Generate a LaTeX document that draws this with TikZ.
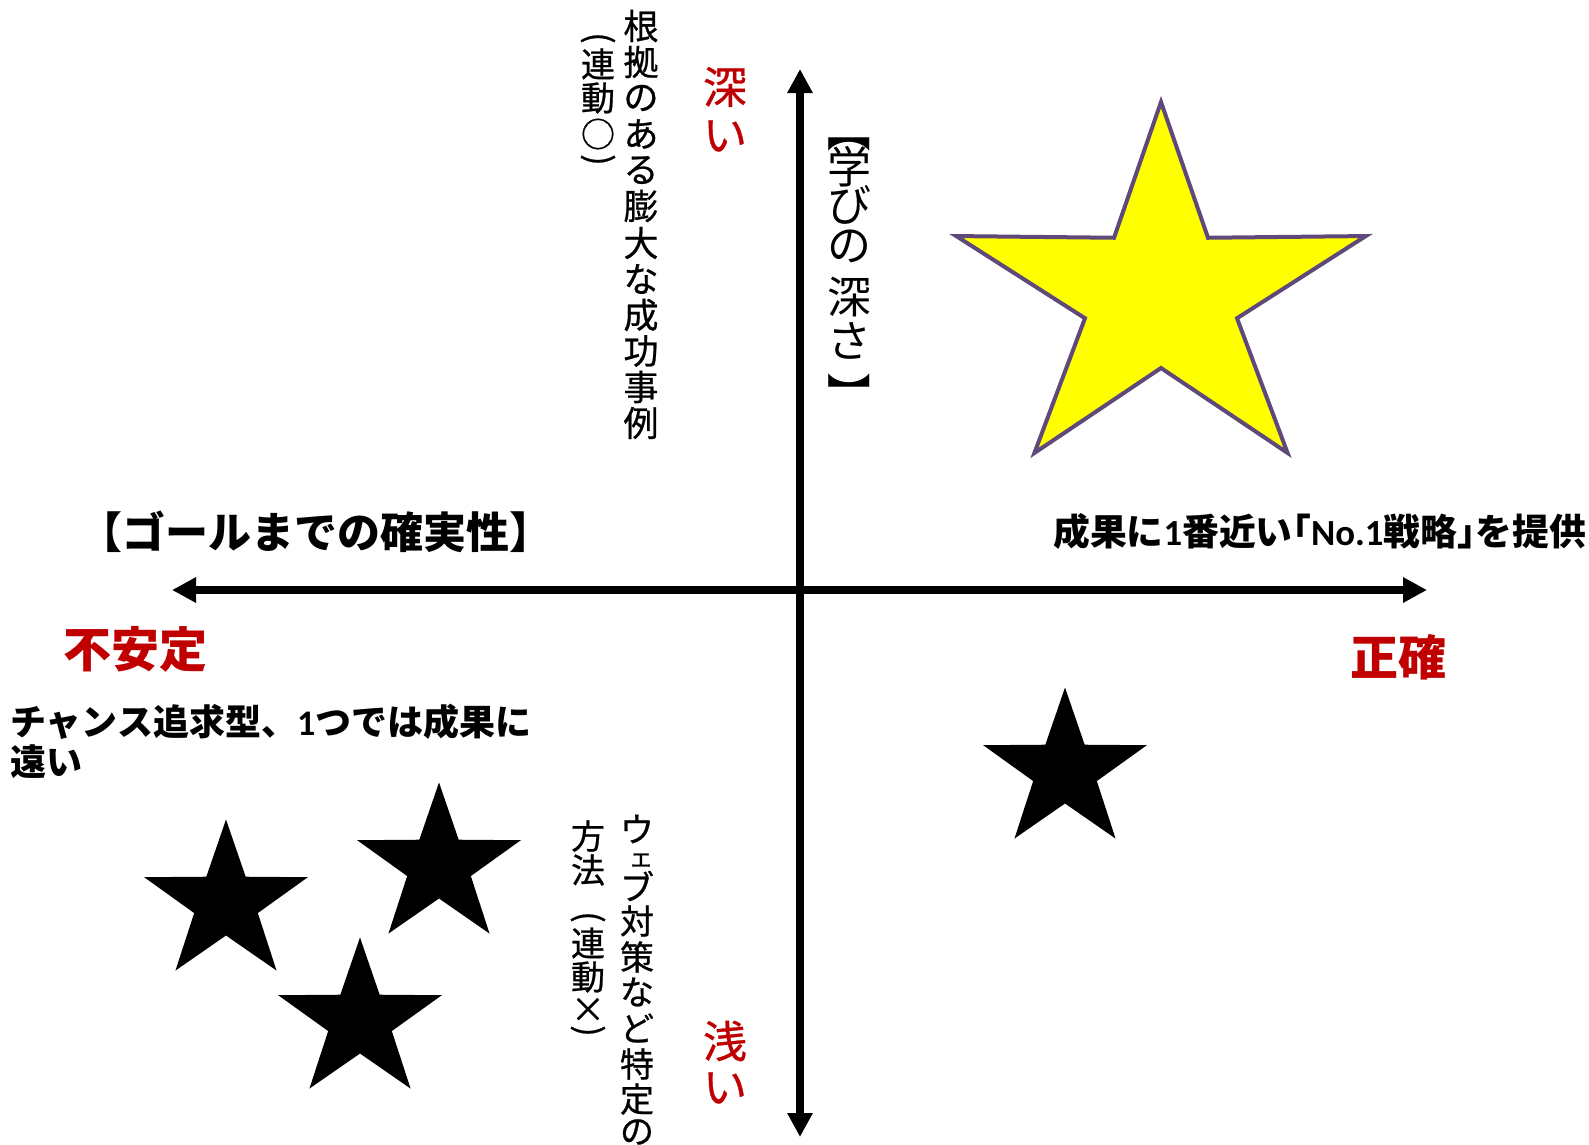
\documentclass[tikz,border=0pt]{standalone}
\usepackage{fontspec}
\usetikzlibrary{arrows.meta}
\newfontfamily\jp{Noto Sans CJK JP}
\newfontfamily\jpm[FakeBold=0.7]{Noto Sans CJK JP}
\newfontfamily\lat{Carlito}
\definecolor{jred}{HTML}{C00000}
\definecolor{jpurple}{HTML}{5F497A}
\definecolor{jyellow}{HTML}{FFFF00}
\tikzset{
  axisline/.style={line width=7.5pt, black, {Triangle[width=24pt,length=24pt]}-{Triangle[width=24pt,length=24pt]}},
  vreg/.style={inner sep=0pt, font=\jpm\fontsize{35}{35}\selectfont},
  vmid/.style={inner sep=0pt, font=\jpm\fontsize{34}{34}\selectfont},
  vsmall/.style={inner sep=0pt, font=\jpm\fontsize{34}{34}\selectfont},
  vbig/.style={inner sep=0pt, font=\jp\fontsize{44}{44}\selectfont},
  redv/.style={inner sep=0pt, text=jred, font=\jpm\fontsize{44}{44}\selectfont},
  redh/.style={inner sep=0pt, anchor=west, text=jred, font=\jp\bfseries\fontsize{48}{48}\selectfont},
  hbold/.style={inner sep=0pt, anchor=west, font=\jp\bfseries\fontsize{#1}{#1}\selectfont},
  ystar/.style={fill=jyellow, draw=jpurple, line width=4pt, line join=miter},
  bstar/.style={fill=black, draw=none},
}
\begin{document}
\begin{tikzpicture}[x=1pt,y=-1pt]
\fill[white] (0,0) rectangle (1589,1144);
\useasboundingbox (0,0) rectangle (1589,1144);

% axes
\coordinate (xl) at (172,590);
\coordinate (xr) at (1427,590);
\coordinate (yt) at (800,69);
\coordinate (yb) at (800,1137);
\draw[axisline] (xl) -- (xr);
\draw[axisline] (yb) -- (yt);

% stars
\draw[ystar, shift={(1161,296)}, xscale=1.11]
  plot[samples at={0,...,9}] ({-90+36*\x}:{194-122*mod(\x,2)}) -- cycle;
\fill[bstar, shift={(1065,771)}, xscale=1.03]
  plot[samples at={0,...,9}] ({-90+36*\x}:{83.5-51*mod(\x,2)}) -- cycle;
\fill[bstar, shift={(226,903)}, xscale=1.03]
  plot[samples at={0,...,9}] ({-90+36*\x}:{83.5-51*mod(\x,2)}) -- cycle;
\fill[bstar, shift={(439,866)}, xscale=1.03]
  plot[samples at={0,...,9}] ({-90+36*\x}:{83.5-51*mod(\x,2)}) -- cycle;
\fill[bstar, shift={(360,1021)}, xscale=1.03]
  plot[samples at={0,...,9}] ({-90+36*\x}:{83.5-51*mod(\x,2)}) -- cycle;

% vertical texts
\foreach [count=\i] \yy/\cc in {26/根,62/拠,98/の,134/あ,170/る,206/膨,243/大,279/な,315/成,351/功,387/事,423/例}
  \node[vreg] (ca\i) at (641,\yy) {\cc};
\node[vsmall, rotate=-90] (cb1) at (598,38) {(};
\foreach [count=\i] \yy/\cc in {64/連,98/動,134/○}
  \node[vsmall] (cb\i x) at (598,\yy) {\cc};
\node[vsmall, rotate=-90] (cb5) at (598,160) {)};
\node[vbig, rotate=-90] (cc1) at (849,130) {【};
\foreach [count=\i] \yy/\cc in {167/学,205/び,246/の,297/深,341/さ}
  \node[vbig] (cc\i x) at (849,\yy) {\cc};
\node[vbig, rotate=-90] (cc7) at (849,394) {】};
\foreach [count=\i] \yy/\cc in {829/ウ,886/ブ,921/対,957/策,992/な,1028/ど,1064/特,1099/定,1132/の}
  \node[vmid] (cd\i) at (637,\yy) {\cc};
\node[inner sep=0pt, font=\jpm\fontsize{25}{25}\selectfont] (cde) at (641,860) {ェ};
\foreach [count=\i] \yy/\cc in {836/方,870/法,943/連,977/動,1010/×}
  \node[vsmall] (ce\i) at (588,\yy) {\cc};
\node[vsmall, rotate=-90] (ceo) at (588,917) {(};
\node[vsmall, rotate=-90] (cec) at (588,1031) {)};

% red labels
\node[redv] (fuka1) at (725,87) {深};
\node[redv] (fuka2) at (725,136) {い};
\node[redv] (asa1) at (725,1041) {浅};
\node[redv] (asa2) at (725,1088) {い};
\node[redh] (fuan) at (63,649) {不安定};
\node[redh] (seikaku) at (1350,657) {正確};

% horizontal texts
\node[hbold=43] (goal) at (79,532) {【ゴールまでの確実性】};
\node[hbold=36.8] (no1) at (1053,531) {成果に{\lat\bfseries 1}番近い\makebox[0.5em][r]{「}{\lat\bfseries No.1}戦略\makebox[0.5em][l]{」}を提供};
\node[hbold=36] (chance1) at (10,722) {チャンス追求型、{\lat\bfseries 1}つでは成果に};
\node[hbold=36] (chance2) at (10,762) {遠い};
\end{tikzpicture}
\end{document}
